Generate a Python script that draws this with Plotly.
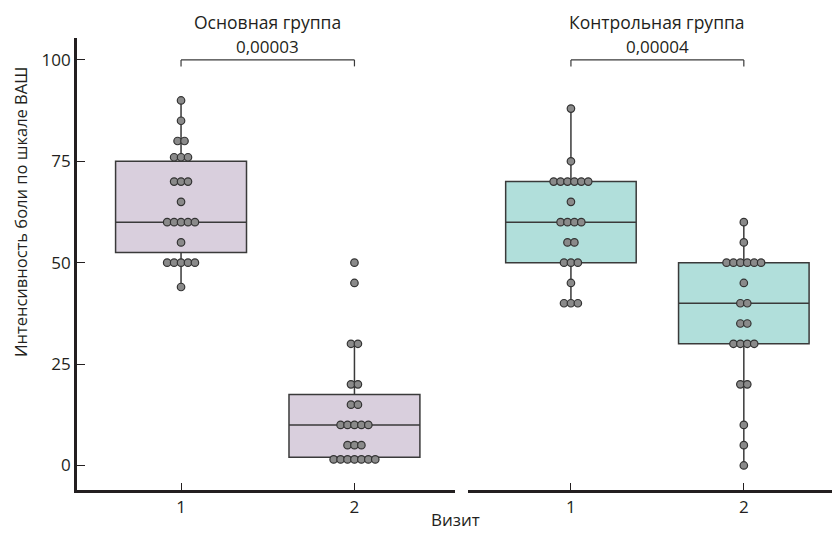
import plotly.graph_objects as go
from collections import Counter

# ---- data ----
groups = ["Основная группа", "Контрольная группа"]
visits = [1, 2]
p_values = ["0,00003", "0,00004"]

g1_v1 = [90, 85, 80, 80, 76, 76, 76, 70, 70, 70, 65, 60, 60, 60, 60, 60, 55,
         50, 50, 50, 50, 50, 44]
g1_v2 = [50, 45, 30, 30, 20, 20, 15, 15, 10, 10, 10, 10, 10, 5, 5, 5,
         1.5, 1.5, 1.5, 1.5, 1.5, 1.5, 1.5]
g2_v1 = [88, 75, 70, 70, 70, 70, 70, 70, 65, 60, 60, 60, 60, 55, 55,
         50, 50, 50, 45, 40, 40, 40]
g2_v2 = [60, 55, 50, 50, 50, 50, 50, 50, 45, 40, 40, 35, 35, 30, 30, 30, 30,
         20, 20, 10, 5, 0]

# box statistics (q1, median, q3, lower whisker, upper whisker)
box_q1 = [[52.5, 2], [50, 30]]
box_median = [[60, 10], [60, 40]]
box_q3 = [[75, 17.5], [70, 50]]
box_low = [[44, 2], [40, 0]]
box_high = [[90, 30], [88, 60]]

y_ticks = [0, 25, 50, 75, 100]

series = [[g1_v1, g1_v2], [g2_v1, g2_v2]]
fills = ["#d9cfdd", "#b1dfdb"]
line_col = "#3a3a3a"
axis_col = "#231f20"
FONT = "Open Sans"

fig = go.Figure()
xrefs = ["x", "x2"]

def swarm(vals, center, step=0.04):
    cnt = Counter(vals)
    seen = Counter()
    xs, ys = [], []
    for v in vals:
        k = cnt[v]
        i = seen[v]
        seen[v] += 1
        xs.append(center + (i - (k - 1) / 2) * step)
        ys.append(v)
    return xs, ys

for g in range(2):
    for j, vis in enumerate(visits):
        fig.add_trace(go.Box(
            x=[vis], q1=[box_q1[g][j]], median=[box_median[g][j]], q3=[box_q3[g][j]],
            lowerfence=[box_low[g][j]], upperfence=[box_high[g][j]],
            width=0.755, fillcolor=fills[g], line=dict(color=line_col, width=1.5),
            whiskerwidth=0, boxpoints=False, xaxis=xrefs[g], yaxis="y",
            showlegend=False, hoverinfo="skip"))
    for j, vis in enumerate(visits):
        xs, ys = swarm(series[g][j], vis)
        fig.add_trace(go.Scatter(
            x=xs, y=ys, mode="markers", xaxis=xrefs[g], yaxis="y",
            marker=dict(size=7.5, color="#8a8a8a", line=dict(color="#333333", width=1.2)),
            showlegend=False, hoverinfo="skip"))

# brackets and p-values
for g in range(2):
    xr = xrefs[g]
    fig.add_shape(type="line", xref=xr, yref="y", x0=visits[0], x1=visits[1], y0=100, y1=100,
                  line=dict(color=line_col, width=1.2))
    for v in visits:
        fig.add_shape(type="line", xref=xr, yref="y", x0=v, x1=v, y0=100, y1=98.4,
                      line=dict(color=line_col, width=1.2))
    fig.add_annotation(x=1.5, y=103.2, xref=xr, yref="y", text=p_values[g], showarrow=False,
                       font=dict(size=17, color=axis_col, family=FONT), yanchor="middle")
    fig.add_annotation(x=1.5, y=1.035, xref=xr, yref="paper", text=groups[g], showarrow=False,
                       font=dict(size=17.5, color=axis_col, family=FONT), yanchor="middle")

fig.add_annotation(x=0.5007, y=-0.066, xref="paper", yref="paper", text="Визит", showarrow=False,
                   font=dict(size=17, color=axis_col, family=FONT), yanchor="middle", borderpad=0)
fig.add_annotation(x=-0.0755, y=0.615, xref="paper", yref="paper",
                   text="Интенсивность боли по шкале ВАШ", showarrow=False, textangle=-90,
                   font=dict(size=16.5, color=axis_col, family=FONT), xanchor="center", yanchor="middle")

xa = dict(showline=True, linewidth=2.8, linecolor=axis_col, ticks="inside", ticklen=7,
          tickwidth=1.2, tickcolor=axis_col, tickvals=visits, ticktext=[str(v) for v in visits],
          showgrid=False, zeroline=False, tickfont=dict(size=17, color=axis_col, family=FONT),
          anchor="y", fixedrange=True)

fig.update_layout(
    width=832, height=533,
    margin=dict(l=77, r=0, t=38, b=43, autoexpand=False),
    paper_bgcolor="white", plot_bgcolor="white",
    xaxis=dict(xa, domain=[0, 0.5007], range=[0.40, 2.58]),
    xaxis2=dict(xa, domain=[0.5175, 1], range=[0.403, 2.51]),
    yaxis=dict(range=[-6.05, 105.4], tickvals=y_ticks, showline=True, linewidth=2.8,
               linecolor=axis_col, ticks="inside", ticklen=8, tickwidth=1.2, tickcolor=axis_col,
               showgrid=False, zeroline=False, anchor="x", fixedrange=True,
               tickfont=dict(size=17, color=axis_col, family=FONT)),
    showlegend=False,
)

fig.write_html("out.html", config={"displayModeBar": False},
               post_script="document.body.style.margin='0';document.body.style.padding='0';")
